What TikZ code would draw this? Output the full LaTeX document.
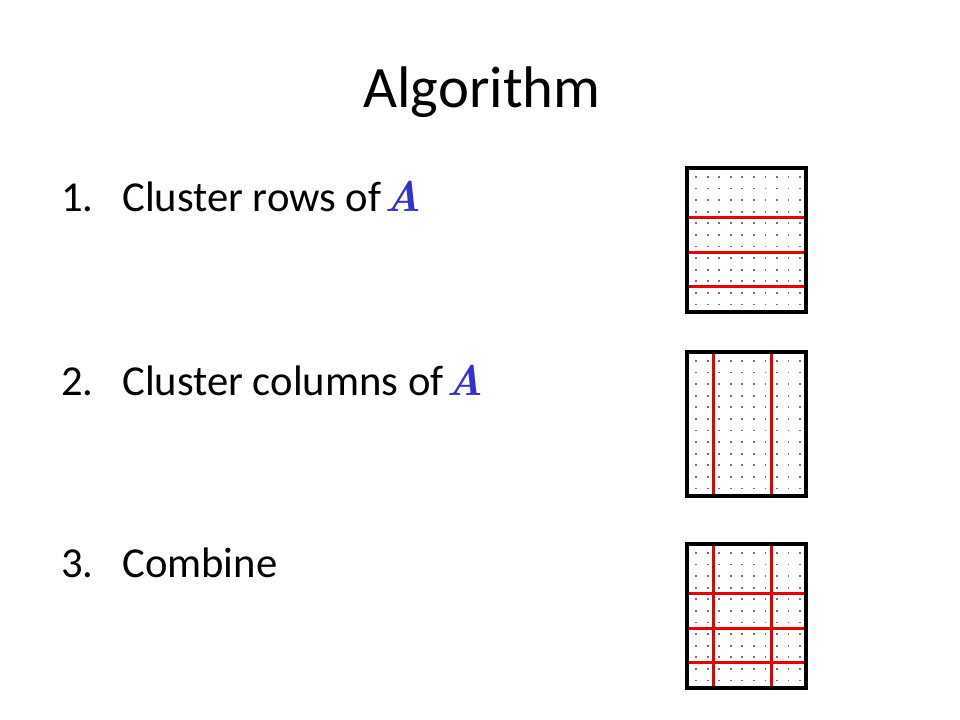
\documentclass[tikz,border=0pt]{standalone}
\usepackage{fontspec}
\setmainfont{Carlito}
\usepackage{xcolor}
\definecolor{matblue}{RGB}{51,51,204}
\definecolor{cutred}{RGB}{235,0,0}
\newcommand{\matA}{\kern-5pt{\fontfamily{lmr}\fontseries{bx}\fontshape{it}\selectfont\color{matblue}A}}

\begin{document}
\begin{tikzpicture}[x=0.75pt, y=-0.75pt,
    item/.style={anchor=base west, inner sep=0pt, font=\fontsize{32}{38}\selectfont},
    frame/.style={draw=black, line width=2.3pt},
    cut/.style={draw=cutred, line width=2.5pt},
    dotc/.style={fill=black!55}]
                    \fill[white] (0,0) rectangle (960,720);
                    \useasboundingbox (0,0) rectangle (960,720);

                    \node[anchor=base, inner sep=0pt, font=\fontsize{44}{52}\selectfont] (title) at (482,108) {Algorithm};

                    \node[item] (n1) at (61,212) {1.};
                    \node[item] (t1) at (122,212) {Cluster rows of \matA};
                    \node[item] (n2) at (61,395) {2.};
                    \node[item] (t2) at (122,395) {Cluster columns of \matA};
                    \node[item] (n3) at (61,577) {3.};
                    \node[item] (t3) at (122,577) {Combine};

                    \foreach \ty in {168,352,544}
                        \foreach \i in {0,...,9}
                            \foreach \j in {0,...,11}
                                \fill[dotc] (695.2+11.55*\i, \ty+8.0+11.6*\j) rectangle ++(1.8,1.8);

                    \foreach \ty in {168,544}
                        \foreach \dy in {49.7,84.3,118.8}
                            \draw[cut] (687,\ty+\dy) -- (806,\ty+\dy);
                    \foreach \ty in {352,544}
                        \foreach \x in {713.7,771.7}
                            \draw[cut] (\x,\ty) -- (\x,\ty+145);

                    \foreach \ty in {168,352,544}
                        \draw[frame] (687,\ty) rectangle (806,\ty+144);
                \end{tikzpicture}
\end{document}
